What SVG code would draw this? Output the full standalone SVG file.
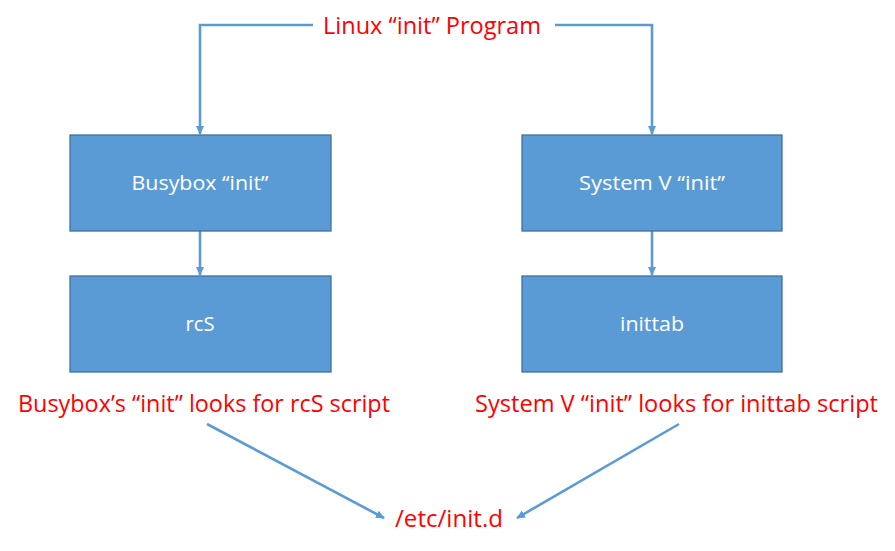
<svg xmlns="http://www.w3.org/2000/svg" width="895" height="551" viewBox="0 0 895 551">
<style>
.box{fill:#5B9BD5;stroke:#41719C;stroke-width:1.3}
.bt{fill:#ffffff;font-family:"Open Sans","Liberation Sans",sans-serif;font-size:20.5px;text-anchor:middle}
.rt{fill:#FF0000;font-family:"Open Sans","Liberation Sans",sans-serif;font-size:23.5px;text-anchor:middle}
.c{fill:none;stroke:#5B9BD5;stroke-width:2.6}
</style>
<defs>
<marker id="ah" markerWidth="10" markerHeight="10" refX="8" refY="5" orient="auto" markerUnits="userSpaceOnUse">
<path d="M0,1 L9,5 L0,9 Z" fill="#5B9BD5"/>
</marker>
</defs>
<rect width="895" height="551" fill="#ffffff"/>
<g id="connectors">
<polyline class="c" points="313,25 200,25 200,134" marker-end="url(#ah)"/>
<polyline class="c" points="555,25 652,25 652,134" marker-end="url(#ah)"/>
<line class="c" x1="200" y1="231" x2="200" y2="275" marker-end="url(#ah)"/>
<line class="c" x1="652" y1="231" x2="652" y2="275" marker-end="url(#ah)"/>
<line class="c" x1="207" y1="424" x2="384" y2="518" marker-end="url(#ah)"/>
<line class="c" x1="679" y1="424" x2="517" y2="518" marker-end="url(#ah)"/>
</g>
<g id="title"><text class="rt" x="432" y="34" textLength="218" lengthAdjust="spacingAndGlyphs">Linux “init” Program</text></g>
<g id="busybox"><rect class="box" x="70" y="135" width="261" height="96"/><text class="bt" x="200" y="190" textLength="137" lengthAdjust="spacingAndGlyphs">Busybox “init”</text></g>
<g id="sysv"><rect class="box" x="522" y="135" width="260" height="96"/><text class="bt" x="652" y="190" textLength="146" lengthAdjust="spacingAndGlyphs">System V “init”</text></g>
<g id="rcs"><rect class="box" x="70" y="276" width="261" height="96"/><text class="bt" x="200" y="331" textLength="29" lengthAdjust="spacingAndGlyphs">rcS</text></g>
<g id="inittab"><rect class="box" x="522" y="276" width="260" height="96"/><text class="bt" x="652" y="331" textLength="64" lengthAdjust="spacingAndGlyphs">inittab</text></g>
<g id="busybox-note"><text class="rt" x="204" y="412" textLength="372" lengthAdjust="spacingAndGlyphs">Busybox’s “init” looks for rcS script</text></g>
<g id="sysv-note"><text class="rt" x="676.5" y="412" textLength="403" lengthAdjust="spacingAndGlyphs">System V “init” looks for inittab script</text></g>
<g id="etc"><text class="rt" x="449" y="527" textLength="108" lengthAdjust="spacingAndGlyphs">/etc/init.d</text></g>
</svg>
